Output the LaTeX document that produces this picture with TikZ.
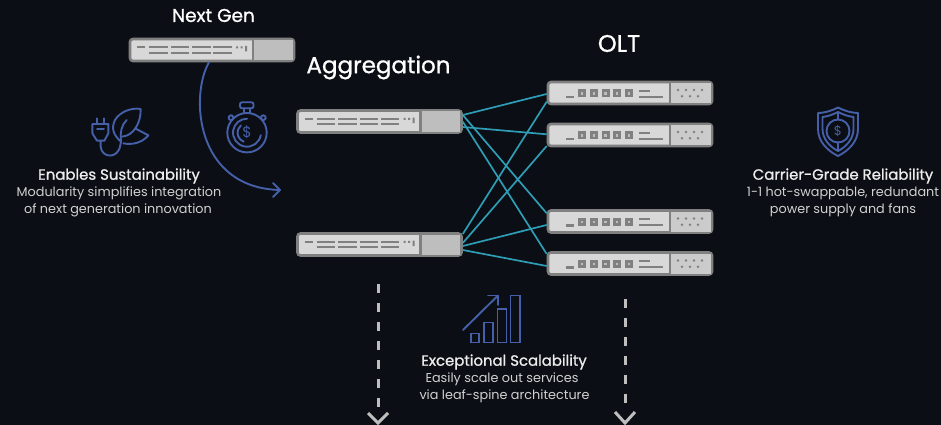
\documentclass[tikz,border=0pt]{standalone}
\usepackage{fontspec}
\setmainfont{Poppins}
\newfontfamily\medf{Poppins}[FakeBold=1.0]
\definecolor{bg}{HTML}{0B0E14}
\definecolor{ic}{HTML}{4560A8}
\definecolor{cy}{HTML}{2E9DB5}
\definecolor{frm}{HTML}{808080}
\definecolor{lite}{HTML}{D8D8D8}
\definecolor{midg}{HTML}{BEBEBE}
\definecolor{dk}{HTML}{808080}
\tikzset{
  devbox/.style={draw=frm,fill=lite,line width=2.6pt,rounded corners=3pt,minimum width=164pt,minimum height=22pt,inner sep=0pt},
  dline/.style={draw=dk,line width=2.2pt},
  icon/.style={draw=ic,line width=1.9pt,line cap=round,line join=round},
  link/.style={draw=cy,line width=1.7pt},
  down/.style={draw=midg,line width=3pt,dash pattern=on 9pt off 10pt},
  chev/.style={draw=midg,line width=3pt},
  head/.style={text=white,font=\fontsize{#1}{#1}\selectfont\medf,inner sep=0pt},
  feat/.style={text=white!93!black,font=\fontsize{14.9}{14.9}\selectfont\medf,inner sep=0pt},
  body/.style={text=white!82!black,font=\fontsize{12.8}{12.8}\selectfont,inner sep=0pt},
}
% switch: name, centre x, centre y
\newcommand{\swdev}[3]{%
  \node[devbox] (#1) at (#2,#3) {};
  \begin{scope}[shift={(#2-82,#3)}]
    \draw[frm,line width=2.2pt] (123,-11) -- (123,11);
    \fill[midg] (124,-10) rectangle (162.8,10);
    \draw[dline] (7,-2.7) -- (15,-2.7);
    \foreach \a in {19,40.5,62,83}{\draw[dline] (\a,-2.7) -- (\a+18.5,-2.7) (\a,2.8) -- (\a+18.5,2.8);}
    \fill[dk] (106,-3.7) rectangle (108,-1.7) (110.5,-3.7) rectangle (112.5,-1.7) (115,-4) rectangle (117,1.5);
  \end{scope}}
% OLT: name, centre x, centre y
\newcommand{\oltdev}[3]{%
  \node[devbox] (#1) at (#2,#3) {};
  \begin{scope}[shift={(#2-82,#3)}]
    \fill[midg!80!white] (122,-10) rectangle (162.8,10);
    \draw[frm,line width=2.2pt] (122,-11) -- (122,11);
    \draw[dline] (18,4) -- (26,4);
    \foreach \a in {30,42,53.5,65,77}{\fill[dk] (\a,-3.7) rectangle (\a+8,4.3); \fill[midg] (\a+2.7,-1) rectangle (\a+5.3,1.6);}
    \draw[dline] (91,-2.3) -- (102,-2.3) (91,3.7) -- (115,3.7);
    \foreach \a in {130,138,146,154}{\fill[dk] (\a,-3) circle (1.4);}
    \foreach \a in {134,142,150}{\fill[dk] (\a,3.2) circle (1.4);}
  \end{scope}}
\begin{document}
\begin{tikzpicture}[x=1pt,y=-1pt]
\useasboundingbox[fill=bg] (0,0) rectangle (941,425);

% mesh
\swdev{ng}{212}{50}
\swdev{aa}{379.5}{121.5}
\swdev{ab}{379.5}{244.5}
\oltdev{oa}{630}{93}
\oltdev{ob}{630}{135}
\oltdev{oc}{630}{221.5}
\oltdev{od}{630}{263.5}

\draw[link] ([yshift=6.5pt]aa.east) -- ([yshift=-1pt]oa.west);
\draw[link] ([yshift=-5.5pt]aa.east) -- ([yshift=0.7pt]ob.west);
\draw[link] ([yshift=6.5pt]aa.east) -- ([yshift=8.2pt]oc.west);
\draw[link] ([yshift=-0.2pt]aa.east) -- ([yshift=9.5pt]od.west);
\draw[link] ([yshift=10.5pt]ab.east) -- ([yshift=-8.7pt]oa.west);
\draw[link] ([yshift=1.5pt]ab.east) -- ([yshift=-11pt]ob.west);
\draw[link] ([yshift=-1.5pt]ab.east) -- ([yshift=-3.5pt]oc.west);
\draw[link] ([yshift=-5.5pt]ab.east) -- ([yshift=-2.5pt]od.west);

% migration arrow
\coordinate (arcend) at (280,190);
\draw[icon] ([xshift=-3pt]ng.south) .. controls (190,95) and (195,188) .. (arcend);
\draw[icon] (273,183) -- (arcend) -- (273,197);

% labels
\node[head=18.5] (tng) at (213.5,15.5) {Next Gen};
\node[head=23] (tag) at (378.5,67.5) {Aggregation};
\node[head=24] (tol) at (619,43.5) {OLT};

\node[feat] (f1) at (119,176) {Enables Sustainability};
\node[body] (b1a) at (119,193) {Modularity simplifies integration};
\node[body] (b1b) at (118,210.5) {of next generation innovation};
\node[feat] (f2) at (843,176) {Carrier-Grade Reliability};
\node[body] (b2a) at (843,193) {1-1 hot-swappable, redundant};
\node[body] (b2b) at (843,210.5) {power supply and fans};
\node[feat] (f3) at (504,362) {Exceptional Scalability};
\node[body] (b3a) at (502,379.5) {Easily scale out services};
\node[body] (b3b) at (504.5,396) {via leaf-spine architecture};

% plug + leaf icon
\begin{scope}[shift={(85,100)},x=1/3*1pt,y=-1/3*1pt]
  \draw[icon] (35,55) -- (35,72) (58,55) -- (58,72);
  \draw[icon] (22,72) -- (70,72) -- (70,100) -- (58,122) -- (36,122) -- (22,100) -- cycle;
  \draw[icon] (36,86) -- (57,86);
  \draw[icon] (47,122) -- (47,140) .. controls (50,175) and (100,178) .. (106,135) -- (108,125);
  \draw[icon] (108,125) .. controls (85,105) and (78,85) .. (90,60) .. controls (105,35) and (140,22) .. (167,27) .. controls (168,70) and (145,108) .. (110,110);
  \draw[icon] (108,125) .. controls (105,95) and (110,75) .. (125,60);
  \draw[icon] (150,85) -- (190,106) .. controls (170,130) and (140,135) .. (115,130);
\end{scope}

% stopwatch
\coordinate (sw) at (247,132.7);
\draw[icon] (sw) circle (19.7);
\draw[icon] (sw) ++(10:14) arc[start angle=10,end angle=270,radius=14];
\draw[icon] (sw) ++(110:9.5) arc[start angle=110,end angle=230,radius=9.5];
\draw[icon,rounded corners=2pt] (240,102.3) rectangle (253.5,108.3);
\draw[icon] (244,108.3) -- (244,113) (250,108.3) -- (250,113);
\draw[icon] (231,117.7) circle (2.4) (263.3,117.7) circle (2.4);
\node[text=ic,font=\fontsize{15}{15}\selectfont,inner sep=0pt] (usd) at (247,132.7) {\$};

% shield
\draw[icon] (838,107.5) .. controls (845,111) and (852,113) .. (858,113) -- (858,129) .. controls (858,142) and (848,151) .. (838,156) .. controls (828,151) and (818,142) .. (818,129) -- (818,113) .. controls (824,113) and (831,111) .. (838,107.5) -- cycle;
\draw[icon] (838,112) .. controls (844,115) and (849,116.5) .. (853.5,117) -- (853.5,129) .. controls (853.5,139) and (846,147) .. (838,151) .. controls (830,147) and (822.5,139) .. (822.5,129) -- (822.5,117) .. controls (827,116.5) and (832,115) .. (838,112) -- cycle;
\draw[icon] (838,131) circle (11.5);
\draw[icon] (838,112) -- (838,119.5) (838,142.5) -- (838,151);
\node[text=ic,font=\fontsize{13}{13}\selectfont,inner sep=0pt] (usb) at (838,131) {\$};

% scale icon
\draw[icon,line cap=butt,line join=miter] (471,333.5) rectangle (479,342.5);
\draw[icon,line cap=butt,line join=miter] (484,322.5) rectangle (493,342.5);
\draw[icon,line cap=butt,line join=miter] (497.5,309) rectangle (506.5,342.5);
\draw[icon,line cap=butt,line join=miter] (510.5,295.5) rectangle (520,342.5);
\coordinate (ups) at (463,330);
\coordinate (upe) at (498,295.5);
\draw[icon] (ups) -- (upe);
\draw[icon] (488,295.5) -- (upe) -- (498,305);

% down arrows
\coordinate (d1s) at (378,284);
\coordinate (d1e) at (378,411);
\coordinate (d2s) at (625,299);
\coordinate (d2e) at (625,410);
\draw[down] (d1s) -- (d1e);
\draw[down] (d2s) -- (d2e);
\draw[chev] (368,413) -- (378,423) -- (388,413);
\draw[chev] (615,412) -- (625,423) -- (635,412);
\end{tikzpicture}
\end{document}
